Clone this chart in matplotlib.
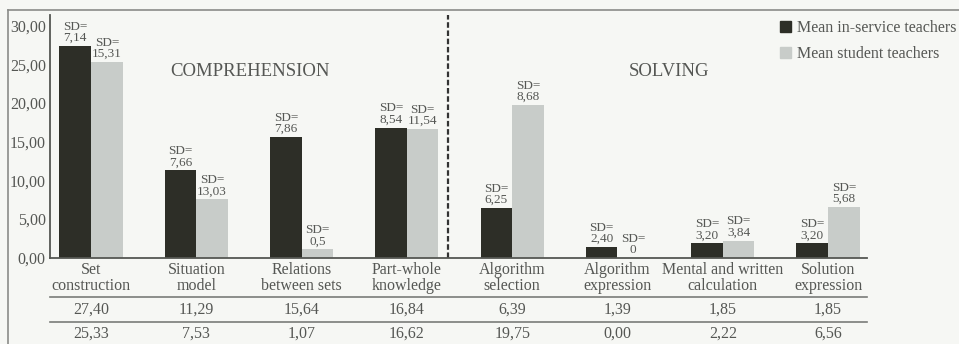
import numpy as np
import matplotlib
matplotlib.use("Agg")
import matplotlib.pyplot as plt
from matplotlib.lines import Line2D
from matplotlib.patches import Patch

plt.rcParams['font.family'] = ['Liberation Serif', 'DejaVu Serif']

categories = ["Set\nconstruction", "Situation\nmodel", "Relations\nbetween sets",
              "Part-whole\nknowledge", "Algorithm\nselection", "Algorithm\nexpression",
              "Mental and written\ncalculation", "Solution\nexpression"]
mean_inservice = [27.40, 11.29, 15.64, 16.84, 6.39, 1.39, 1.85, 1.85]
mean_student = [25.33, 7.53, 1.07, 16.62, 19.75, 0.00, 2.22, 6.56]
sd_inservice = ["7,14", "7,66", "7,86", "8,54", "6,25", "2,40", "3,20", "3,20"]
sd_student = ["15,31", "13,03", "0,5", "11,54", "8,68", "0", "3,84", "5,68"]
yticks = [0, 5, 10, 15, 20, 25, 30]

DARK = '#2d2e27'
LIGHT = '#c8ccc9'
TEXT = '#555754'
BG = '#f6f7f4'

W, H = 959, 344
fig = plt.figure(figsize=(W / 100, H / 100), dpi=100, facecolor=BG)

# axes box in pixels
ax_left, ax_right, ax_top, ax_bottom = 50, 867, 15, 257.7
ax = fig.add_axes([ax_left / W, 1 - ax_bottom / H,
                   (ax_right - ax_left) / W, (ax_bottom - ax_top) / H])
ax.set_facecolor(BG)

def fy(py):
    # pixel row -> axes fraction
    return (ax_bottom - py) / (ax_bottom - ax_top)

x = np.arange(len(categories))
bw = 0.30
b1 = ax.bar(x - bw / 2, mean_inservice, bw, color=DARK, label='Mean in-service teachers')
b2 = ax.bar(x + bw / 2, mean_student, bw, color=LIGHT, label='Mean student teachers')

ax.set_xlim(-0.39, 7.37)
ax.set_ylim(0, 31.4)
ax.set_yticks(yticks)
ax.set_yticklabels([f"{v:.2f}".replace('.', ',') for v in yticks], fontsize=11.5, color=TEXT)
ax.tick_params(axis='y', length=0, pad=3)
ax.set_xticks([])
for s in ['top', 'right']:
    ax.spines[s].set_visible(False)
for s in ['left', 'bottom']:
    ax.spines[s].set_color('#555753')
    ax.spines[s].set_linewidth(1.3)

# SD labels above the bars
for bars, sds in [(b1, sd_inservice), (b2, sd_student)]:
    for rect, sd in zip(bars, sds):
        ax.annotate("SD=\n" + sd, (rect.get_x() + rect.get_width() / 2, rect.get_height()),
                    xytext=(0, 1.5), textcoords='offset points', ha='center', va='bottom',
                    fontsize=9.5, color=TEXT, linespacing=0.9)

# divider between the two phases
ax.axvline(3.39, ymin=0, ymax=1, color='#333', lw=1.6, ls=(0, (2.5, 1.2)))

# phase titles, placed in figure fraction
fig.text(250 / W, 1 - 72 / H, "COMPREHENSION", fontsize=13.5, color=TEXT,
         ha='center', va='center')
fig.text(669 / W, 1 - 72 / H, "SOLVING", fontsize=13.5, color=TEXT,
         ha='center', va='center')

# table under the axis
xt = ax.get_xaxis_transform()
for i, cat in enumerate(categories):
    ax.text(i, fy(278), cat, transform=xt, ha='center', va='center', fontsize=11.5,
            color=TEXT, linespacing=0.95, clip_on=False)
    ax.text(i, fy(310), f"{mean_inservice[i]:.2f}".replace('.', ','), transform=xt,
            ha='center', va='center', fontsize=11.5, color=TEXT, clip_on=False)
    ax.text(i, fy(334), f"{mean_student[i]:.2f}".replace('.', ','), transform=xt,
            ha='center', va='center', fontsize=11.5, color=TEXT, clip_on=False)
for py in [297, 322]:
    ax.add_line(Line2D([0, 1], [fy(py), fy(py)], transform=ax.transAxes, color='#7a7c79',
                       lw=1.2, clip_on=False))

ax.legend(handles=[Patch(color=DARK), Patch(color=LIGHT)],
          labels=['Mean in-service teachers', 'Mean student teachers'],
          loc='upper left', bbox_to_anchor=(780 / W, 1 - 20 / H),
          bbox_transform=fig.transFigure, frameon=False, fontsize=11.5,
          handlelength=0.7, handleheight=0.7, handletextpad=0.35,
          labelspacing=0.65, borderpad=0, borderaxespad=0, labelcolor=TEXT)

# outer frame lines
fig.add_artist(Line2D([8 / W, 1], [1 - 10 / H, 1 - 10 / H], color='#8a8c89', lw=1.2))
fig.add_artist(Line2D([8 / W, 8 / W], [0, 1 - 10 / H], color='#8a8c89', lw=1.2))

fig.savefig('out.png', dpi=100, facecolor=BG)
